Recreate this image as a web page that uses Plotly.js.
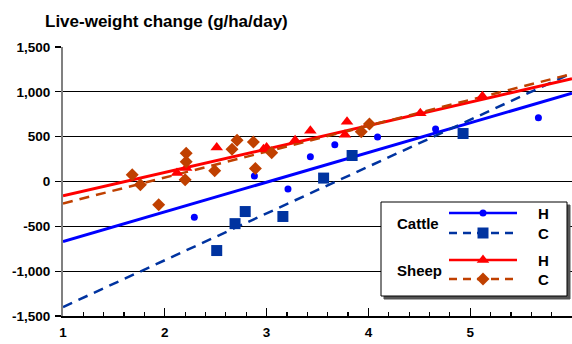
<!DOCTYPE html>
<html>
<head>
<meta charset="utf-8">
<script src="https://cdn.plot.ly/plotly-3.0.1.min.js"></script>
<style>
  html, body { margin: 0; padding: 0; background: #fff; }
  #chart { width: 572px; height: 344px; }
</style>
</head>
<body>
<div id="chart"></div>
<script>
// Stocking rate (x) vs live-weight change (g/ha/day)
var cattleHX = [2.29, 2.88, 3.21, 3.43, 3.67, 4.09, 4.66, 5.67];
var cattleHY = [-400, 60, -85, 275, 410, 495, 585, 710];

var cattleCX = [2.51, 2.69, 2.79, 3.16, 3.56, 3.84, 4.93];
var cattleCY = [-770, -470, -335, -390, 38, 290, 535];

var sheepHX = [2.12, 2.21, 2.51, 2.97, 3.00, 3.28, 3.43, 3.77, 3.79, 4.51, 5.12];
var sheepHY = [95, 150, 380, 360, 380, 460, 565, 520, 665, 760, 950];

var sheepCX = [1.68, 1.76, 1.94, 2.20, 2.21, 2.21, 2.49, 2.66, 2.71, 2.87, 2.89, 3.05, 3.93, 4.01];
var sheepCY = [75, -35, -260, 20, 220, 315, 120, 360, 460, 440, 145, 320, 555, 640];

// fitted regression lines, evaluated at both ends of the x range
var fitX = [1, 6];
var cattleHFit = [-670, 985];
var cattleCFit = [-1400, 1210];
var sheepHFit = [-160, 1145];
var sheepCFit = [-245, 1200];

var yTicks = [-1500, -1000, -500, 0, 500, 1000, 1500];
var yTickText = ['-1,500', '-1,000', '-500', '0', '500', '1,000', '1,500'];

var groupLabels = ['Cattle', 'Sheep'];
var seriesLabels = ['H', 'C', 'H', 'C'];

var BLUE = '#0000FF', NAVY = '#0033A0', RED = '#FF0000', BROWN = '#C04000';
var FONT = 'Liberation Sans, Arial, sans-serif';

function bold(s) { return '<b>' + s + '</b>'; }

var traces = [
  {x: fitX, y: cattleHFit, mode: 'lines', line: {color: BLUE, width: 3}},
  {x: fitX, y: cattleCFit, mode: 'lines', line: {color: NAVY, width: 2.5, dash: '10px,7px'}},
  {x: fitX, y: sheepHFit, mode: 'lines', line: {color: RED, width: 3}},
  {x: fitX, y: sheepCFit, mode: 'lines', line: {color: BROWN, width: 2.5, dash: '10px,7px'}},
  {x: cattleHX, y: cattleHY, mode: 'markers', marker: {color: BLUE, size: 7, symbol: 'circle'}},
  {x: cattleCX, y: cattleCY, mode: 'markers', marker: {color: NAVY, size: 11, symbol: 'square'}},
  {x: sheepHX, y: sheepHY, mode: 'markers', marker: {color: RED, size: 11, symbol: 'triangle-up'}},
  {x: sheepCX, y: sheepCY, mode: 'markers', marker: {color: BROWN, size: 10, symbol: 'diamond'}}
];

// Key box drawn on an overlay axis in pixel-like units (0..509 x 0..269)
var box = {x0: 318, x1: 504, y0: 20, y1: 114};
traces.push({
  xaxis: 'x2', yaxis: 'y2', mode: 'lines', hoverinfo: 'skip',
  x: [box.x0 + 3, box.x1 + 3, box.x1 + 3, box.x0 + 3, box.x0 + 3],
  y: [box.y0 - 3, box.y0 - 3, box.y1 - 3, box.y1 - 3, box.y0 - 3],
  fill: 'toself', fillcolor: '#555', line: {color: '#555', width: 1}
});
traces.push({
  xaxis: 'x2', yaxis: 'y2', mode: 'lines', hoverinfo: 'skip',
  x: [box.x0, box.x1, box.x1, box.x0, box.x0],
  y: [box.y0, box.y0, box.y1, box.y1, box.y0],
  fill: 'toself', fillcolor: '#fff', line: {color: '#000', width: 1}
});

var keyX = [386, 454];
var keyMid = [420];
var keyRows = [103, 83, 56, 37];
var keyStyles = [
  {line: {color: BLUE, width: 2.5}, marker: {color: BLUE, size: 7, symbol: 'circle'}},
  {line: {color: NAVY, width: 2.5, dash: '8px,6px'}, marker: {color: NAVY, size: 11, symbol: 'square'}},
  {line: {color: RED, width: 2.5}, marker: {color: RED, size: 11, symbol: 'triangle-up'}},
  {line: {color: BROWN, width: 2.5, dash: '8px,6px'}, marker: {color: BROWN, size: 10, symbol: 'diamond'}}
];
keyRows.forEach(function (ry, i) {
  traces.push({xaxis: 'x2', yaxis: 'y2', mode: 'lines', hoverinfo: 'skip',
    x: keyX, y: [ry, ry], line: keyStyles[i].line});
  traces.push({xaxis: 'x2', yaxis: 'y2', mode: 'markers', hoverinfo: 'skip',
    x: keyMid, y: [ry], marker: keyStyles[i].marker});
});

var annotations = [];
[93, 46].forEach(function (ry, i) {
  annotations.push({xref: 'x2', yref: 'y2', x: 332, y: ry, text: bold(groupLabels[i]),
    showarrow: false, xanchor: 'left', yanchor: 'middle',
    font: {family: FONT, size: 15, color: '#000'}});
});
keyRows.forEach(function (ry, i) {
  annotations.push({xref: 'x2', yref: 'y2', x: 480, y: ry, text: bold(seriesLabels[i]),
    showarrow: false, xanchor: 'center', yanchor: 'middle',
    font: {family: FONT, size: 15, color: '#000'}});
});

var layout = {
  width: 572, height: 344,
  margin: {l: 63, r: 0, t: 47, b: 28, pad: 0},
  paper_bgcolor: '#fff', plot_bgcolor: '#fff',
  showlegend: false,
  font: {family: FONT, size: 13.5, color: '#000'},
  title: {
    text: bold('Live-weight change (g/ha/day)'),
    font: {family: FONT, size: 17, color: '#000'},
    x: 45 / 572, xref: 'container', xanchor: 'left',
    y: 1 - 21 / 344, yref: 'container', yanchor: 'middle'
  },
  xaxis: {
    range: [1, 6], tickmode: 'linear', tick0: 1, dtick: 1,
    ticks: 'inside', ticklen: 8, tickcolor: '#000', tickwidth: 1.2,
    minor: {tickmode: 'linear', tick0: 1, dtick: 0.2, ticks: 'inside', ticklen: 4, tickcolor: '#000', tickwidth: 1.2, showgrid: false},
    showgrid: false, zeroline: false,
    showline: true, linecolor: '#000', linewidth: 1.5,
    tickfont: {family: FONT, size: 13.5, color: '#000', weight: 'bold'},
    ticklabelstandoff: 3, fixedrange: true
  },
  yaxis: {
    range: [-1500, 1500], tickvals: yTicks, ticktext: yTickText.map(bold),
    ticks: 'outside', ticklen: 6, tickcolor: '#000', tickwidth: 1.2,
    showgrid: true, gridcolor: '#000', gridwidth: 1, zeroline: false,
    showline: true, linecolor: '#808080', linewidth: 2,
    tickfont: {family: FONT, size: 13.5, color: '#000'},
    ticklabelstandoff: 2, fixedrange: true
  },
  xaxis2: {overlaying: 'x', range: [0, 509], visible: false, fixedrange: true},
  yaxis2: {overlaying: 'y', range: [0, 269], visible: false, fixedrange: true},
  annotations: annotations
};

Plotly.newPlot('chart', traces, layout, {displayModeBar: false, staticPlot: true});
</script>
</body>
</html>
